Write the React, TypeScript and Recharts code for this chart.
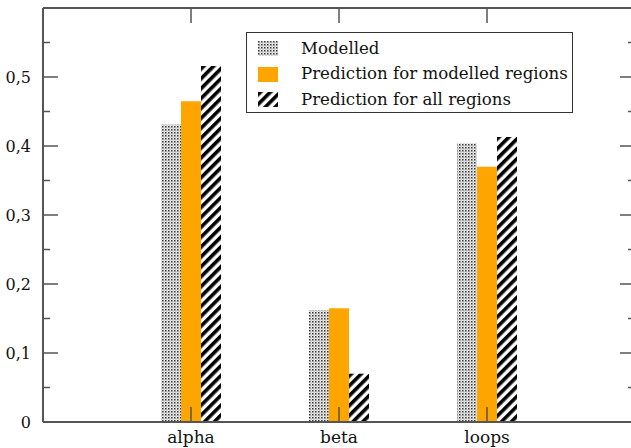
import React from 'react';
import { ComposedChart, Bar, Line, XAxis, YAxis } from 'recharts';

const categories = ['alpha', 'beta', 'loops'];
const modelled = [0.431, 0.162, 0.404];
const predModelled = [0.465, 0.165, 0.370];
const predAll = [0.516, 0.070, 0.413];
const yTicks = [0, 0.05, 0.1, 0.15, 0.2, 0.25, 0.3, 0.35, 0.4, 0.45, 0.5, 0.55];
const seriesNames = ['Modelled', 'Prediction for modelled regions', 'Prediction for all regions'];

const data = categories.map((name, i) => ({
  name,
  modelled: modelled[i],
  predModelled: predModelled[i],
  predAll: predAll[i],
}));

const AXIS = '#555555';
const FONT = '"DejaVu Serif", serif';

const isMajor = (v: number) => Math.round(v * 100) % 10 === 0;
const fmt = (v: number) => (v === 0 ? '0' : v.toFixed(1).replace('.', ','));

const LeftTick = (props: any) => {
  const { x, y, payload } = props;
  const v = payload.value as number;
  const major = isMajor(v);
  return (
    <g>
      {v !== 0 && <line x1={x} x2={x + (major ? 15 : 7)} y1={y} y2={y} stroke={AXIS} strokeWidth={1.5} />}
      {major && (
        <text x={x - 12} y={y} textAnchor="end" dominantBaseline="central" style={{ fontFamily: FONT, fontSize: 16 }} fill="#111">
          {fmt(v)}
        </text>
      )}
    </g>
  );
};

const RightTick = (props: any) => {
  const { x, y, payload } = props;
  const v = payload.value as number;
  if (v === 0) return <g />;
  const major = isMajor(v);
  return <line x1={x} x2={x - (major ? 15 : 7)} y1={y} y2={y} stroke={AXIS} strokeWidth={1.5} />;
};

const BottomTick = (props: any) => {
  const { x, y, payload } = props;
  return (
    <g>
      <line x1={x} x2={x} y1={y} y2={y - 15} stroke={AXIS} strokeWidth={1.5} />
      <text x={x} y={y + 21} textAnchor="middle" style={{ fontFamily: FONT, fontSize: 17 }} fill="#111">
        {payload.value}
      </text>
    </g>
  );
};

const TopTick = (props: any) => {
  const { x, y } = props;
  return <line x1={x} x2={x} y1={y} y2={y + 15} stroke={AXIS} strokeWidth={1.5} />;
};

const swatchFills = ['url(#dots)', '#FFA500', 'url(#hatch)'];

const LegendBox = () => (
  <div
    style={{
      position: 'absolute',
      left: 246,
      top: 32,
      width: 327,
      height: 81,
      border: '1.5px solid #333',
      background: '#fff',
      boxSizing: 'border-box',
      paddingTop: 3,
      fontFamily: FONT,
      fontSize: 16.6,
      color: '#111',
    }}
  >
    {seriesNames.map((n, i) => (
      <div key={n} style={{ display: 'flex', alignItems: 'center', height: 25.5 }}>
        <svg width={20} height={15} style={{ marginLeft: 11, marginRight: 23 }}>
          <rect x={0} y={0} width={20} height={15} fill={swatchFills[i]} />
        </svg>
        <span style={{ lineHeight: '20px' }}>{n}</span>
      </div>
    ))}
  </div>
);

export default function App() {
  return (
    <div style={{ position: 'absolute', left: 0, top: 0, width: 631, height: 448, overflow: 'hidden', background: '#fff' }}>
      <ComposedChart
        width={636}
        height={448}
        data={data}
        margin={{ top: 7, right: 0, bottom: 0, left: 0 }}
        barSize={20}
        barGap={0}
      >
        <defs>
          <pattern id="dots" width={3} height={3} patternUnits="userSpaceOnUse">
            <rect width={3} height={3} fill="#f2f2f2" />
            <rect x={0} y={0} width={1.5} height={1.5} fill="#333" />
            <rect x={1.5} y={1.5} width={1} height={1} fill="#777" />
          </pattern>
          <pattern id="hatch" width={7} height={7} patternUnits="userSpaceOnUse" patternTransform="rotate(45)">
            <rect width={7} height={7} fill="#ffffff" />
            <rect x={0} y={0} width={3.6} height={7} fill="#000" />
          </pattern>
        </defs>
        <XAxis
          xAxisId="bottom"
          dataKey="name"
          height={26}
          padding={{ left: 74, right: 74 }}
          axisLine={{ stroke: AXIS, strokeWidth: 2 }}
          tickLine={false}
          tickSize={0}
          tickMargin={0}
          tick={<BottomTick />}
          interval={0}
        />
        <XAxis
          xAxisId="top"
          dataKey="name"
          orientation="top"
          height={1}
          padding={{ left: 74, right: 74 }}
          axisLine={{ stroke: AXIS, strokeWidth: 2 }}
          tickLine={false}
          tickSize={0}
          tickMargin={0}
          tick={<TopTick />}
          interval={0}
        />
        <YAxis
          yAxisId="left"
          width={43}
          domain={[0, 0.6]}
          ticks={yTicks}
          interval={0}
          axisLine={{ stroke: AXIS, strokeWidth: 2 }}
          tickLine={false}
          tickSize={0}
          tickMargin={0}
          tick={<LeftTick />}
        />
        <YAxis
          yAxisId="right"
          orientation="right"
          width={1}
          domain={[0, 0.6]}
          ticks={yTicks}
          interval={0}
          axisLine={{ stroke: AXIS, strokeWidth: 2 }}
          tickLine={false}
          tickSize={0}
          tickMargin={0}
          tick={<RightTick />}
        />
        <Bar xAxisId="bottom" yAxisId="left" dataKey="modelled" name={seriesNames[0]} fill="url(#dots)" isAnimationActive={false} />
        <Bar xAxisId="bottom" yAxisId="left" dataKey="predModelled" name={seriesNames[1]} fill="#FFA500" isAnimationActive={false} />
        <Bar xAxisId="bottom" yAxisId="left" dataKey="predAll" name={seriesNames[2]} fill="url(#hatch)" isAnimationActive={false} />
        <Line xAxisId="top" yAxisId="right" dataKey="modelled" stroke="none" dot={false} activeDot={false} legendType="none" isAnimationActive={false} />
      </ComposedChart>
      <LegendBox />
    </div>
  );
}
